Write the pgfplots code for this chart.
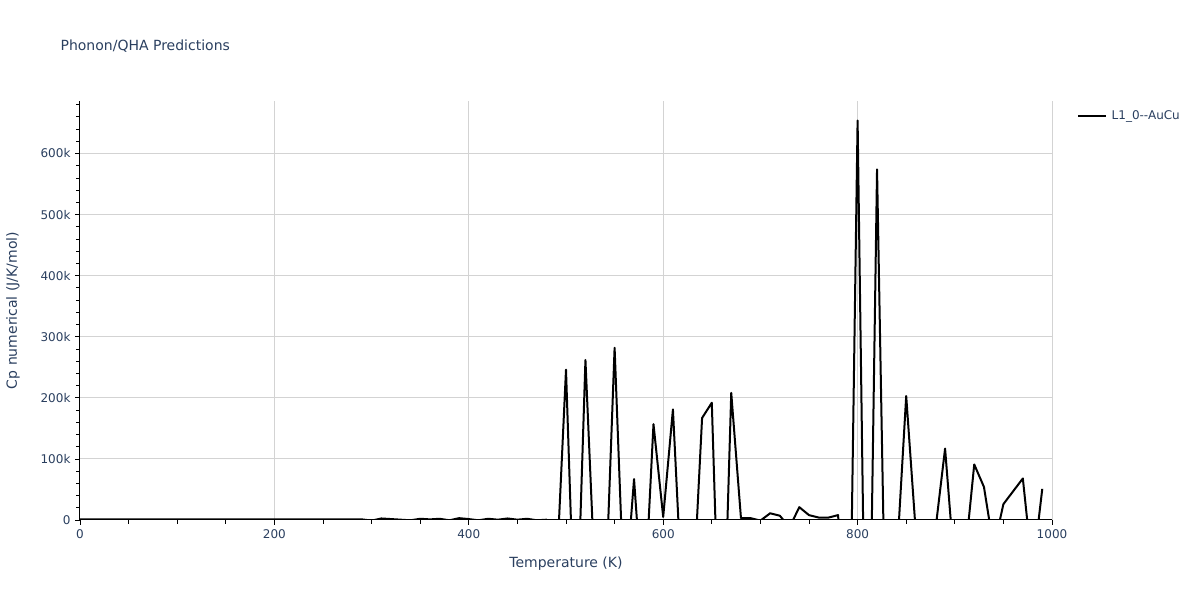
\documentclass[border=0pt]{standalone}
\usepackage{pgfplots}
\pgfplotsset{compat=1.18}
\usepackage{fontspec}
\setmainfont{DejaVu Sans}
\definecolor{txt}{HTML}{2A3F5F}
\definecolor{gridc}{HTML}{D3D3D3}
\begin{document}
\begin{tikzpicture}[x=1pt,y=1pt]
\useasboundingbox (0,0) rectangle (1200,600);
\begin{axis}[
  at={(80pt,80pt)}, anchor=south west,
  width=972pt, height=419pt, scale only axis,
  xmin=0, xmax=1000, ymin=0, ymax=686000,
  axis x line*=bottom, axis y line*=left,
  axis line style={black, line width=1pt, -},
  xtick={0,200,...,1000},
  minor xtick={0,50,...,1000},
  ytick={0,100000,200000,300000,400000,500000,600000},
  yticklabels={0,100k,200k,300k,400k,500k,600k},
  minor ytick={0,20000,...,680000},
  scaled y ticks=false,
  tick align=outside,
  major tick length=5pt, minor tick length=4pt,
  tick style={black, line width=0.8pt},
  grid=major,
  major grid style={gridc, line width=1pt},
  /pgf/number format/assume math mode=true,
  /pgf/number format/1000 sep={},
  ticklabel style={font=\fontsize{12}{14}\selectfont, text=txt},
  xticklabel style={yshift=-1pt},
  yticklabel style={xshift=-1pt},
  xlabel={Temperature (K)},
  ylabel={Cp numerical (J/K/mol)},
  label style={font=\fontsize{14}{16}\selectfont, text=txt},
  xlabel style={at={(rel axis cs:0.5,-0.103)}, anchor=center},
  ylabel style={at={(rel axis cs:-0.069,0.5)}, anchor=center, rotate=0},
  title={Phonon/QHA Predictions},
  title style={at={(rel axis cs:-0.0236,1.1157)}, anchor=west, font=\fontsize{14}{17}\selectfont, text=txt},
  legend style={at={(rel axis cs:1.0257,0.964)}, anchor=west, draw=none, fill=none,
    inner sep=0pt, font=\fontsize{12}{14}\selectfont, text=txt,
    nodes={inner xsep=4.5pt}},
  legend image code/.code={\draw[line width=2pt] (0pt,0pt) -- (28pt,0pt);},
  legend cell align=left,
  clip=true,
]
\addplot[black, line width=2pt, line join=round] table[row sep=\\] {
T Cp \\
0 1000 \\ 10 1000 \\ 20 1000 \\ 30 1000 \\ 40 1000 \\ 50 1000 \\ 60 1000 \\ 70 1000 \\ 80 1000 \\ 90 1000 \\
100 1000 \\ 110 1000 \\ 120 1000 \\ 130 1000 \\ 140 1000 \\ 150 1000 \\ 160 1000 \\ 170 1000 \\ 180 1000 \\ 190 1000 \\
200 1000 \\ 210 1000 \\ 220 1000 \\ 230 1000 \\ 240 1000 \\ 250 1000 \\ 260 1000 \\ 270 1000 \\ 280 1000 \\ 290 1000 \\
300 -1000 \\ 310 2500 \\ 320 1500 \\ 330 500 \\ 340 -500 \\ 350 2000 \\ 360 1000 \\ 370 2000 \\ 380 -500 \\ 390 3000 \\
400 1500 \\ 410 -500 \\ 420 2000 \\ 430 500 \\ 440 2500 \\ 450 500 \\ 460 2000 \\ 470 -500 \\ 480 500 \\ 490 -96000 \\
500 246000 \\ 510 -240000 \\ 520 262000 \\ 530 -107000 \\ 540 -152000 \\ 550 282000 \\ 560 -140000 \\ 570 67000 \\ 580 -160000 \\ 590 157000 \\
600 5000 \\ 610 181000 \\ 620 -142000 \\ 630 -149000 \\ 640 167000 \\ 650 192000 \\ 660 -325000 \\ 670 208000 \\ 680 3000 \\ 690 3000 \\
700 -1000 \\ 710 11000 \\ 720 7000 \\ 730 -12000 \\ 740 21000 \\ 750 8000 \\ 760 4000 \\ 770 4000 \\ 780 8000 \\ 790 -450000 \\
800 654000 \\ 810 -500000 \\ 820 574000 \\ 830 -309000 \\ 840 -71000 \\ 850 203000 \\ 860 -23000 \\ 870 -30000 \\ 880 -17000 \\ 890 117000 \\
900 -85000 \\ 910 -69000 \\ 920 91000 \\ 930 54000 \\ 940 -46000 \\ 950 26000 \\ 960 47000 \\ 970 68000 \\ 980 -84000 \\ 990 51000 \\
};
\addlegendentry{L1\_0-{}-AuCu}
\end{axis}
\end{tikzpicture}
\end{document}
